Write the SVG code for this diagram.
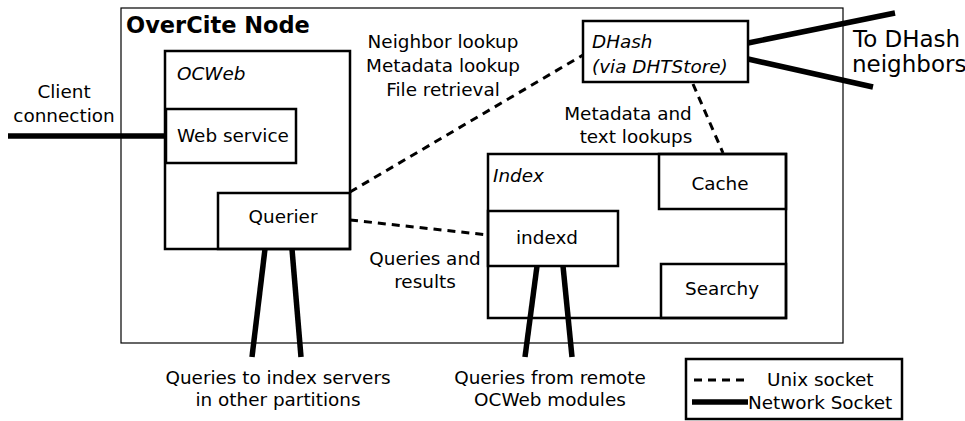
<svg xmlns="http://www.w3.org/2000/svg" width="965" height="421" viewBox="0 0 965 421">
<style>
text{font-family:"DejaVu Sans","Verdana",sans-serif;font-size:18.4px;fill:#000}
.it{font-style:italic}
.c{text-anchor:middle}
.box{fill:none;stroke:#000;stroke-width:2.5}
.outer{fill:none;stroke:#000;stroke-width:1.2}
.unix{fill:none;stroke:#000;stroke-width:3;stroke-dasharray:8 6}
.net{fill:none;stroke:#000;stroke-width:5.5}
.big{font-size:23px}
</style>
<rect width="965" height="421" fill="#fff"/>
<g id="overcite-node">
<rect class="outer" x="121" y="8" width="722" height="335"/>
<text x="126" y="33" style="font-weight:bold;font-size:22.5px">OverCite Node</text>
</g>
<g id="ocweb">
<rect class="box" x="165" y="51" width="185" height="198"/>
<text class="it" x="177" y="80">OCWeb</text>
</g>
<g id="web-service">
<rect class="box" x="166" y="109" width="130" height="54"/>
<text x="177" y="142">Web service</text>
</g>
<g id="querier">
<rect class="box" x="218" y="193" width="132" height="56"/>
<text class="c" x="283" y="223">Querier</text>
</g>
<g id="dhash">
<rect class="box" x="583" y="21" width="165" height="61"/>
<text class="it" x="592" y="48">DHash</text>
<text class="it" x="592" y="73">(via DHTStore)</text>
</g>
<g id="index">
<rect class="box" x="488" y="154" width="298" height="164"/>
<text class="it" x="493" y="182">Index</text>
</g>
<g id="cache">
<rect class="box" x="659" y="154" width="127" height="55"/>
<text class="c" x="720" y="190">Cache</text>
</g>
<g id="indexd">
<rect class="box" x="488" y="211" width="130" height="55"/>
<text class="c" x="547" y="244">indexd</text>
</g>
<g id="searchy">
<rect class="box" x="661" y="264" width="125" height="54"/>
<text class="c" x="722" y="295">Searchy</text>
</g>
<g id="connectors">
<line class="net" x1="8" y1="136" x2="166" y2="136"/>
<line class="unix" x1="350" y1="192" x2="583" y2="55"/>
<line class="unix" x1="693" y1="84" x2="723" y2="153"/>
<line class="unix" x1="350" y1="220" x2="488" y2="235"/>
<line class="net" x1="748" y1="43" x2="895" y2="13"/>
<line class="net" x1="748" y1="59" x2="873" y2="87"/>
<line class="net" x1="265" y1="249" x2="252" y2="357"/>
<line class="net" x1="292" y1="249" x2="301" y2="357"/>
<line class="net" x1="537" y1="266" x2="525" y2="357"/>
<line class="net" x1="563" y1="266" x2="572" y2="357"/>
</g>
<g id="labels">
<text class="c" x="64" y="98">Client</text>
<text class="c" x="64" y="122">connection</text>
<text class="c" x="443" y="48">Neighbor lookup</text>
<text class="c" x="443" y="72">Metadata lookup</text>
<text class="c" x="443" y="96">File retrieval</text>
<text class="c" x="628" y="120">Metadata and</text>
<text class="c" x="636" y="143">text lookups</text>
<text class="big" x="853" y="47">To DHash</text>
<text class="big" x="852" y="72">neighbors</text>
<text class="c" x="425" y="265">Queries and</text>
<text class="c" x="425" y="288">results</text>
<text class="c" x="278" y="384">Queries to index servers</text>
<text class="c" x="278" y="406">in other partitions</text>
<text class="c" x="550" y="384">Queries from remote</text>
<text class="c" x="550" y="406">OCWeb modules</text>
</g>
<g id="legend">
<rect class="box" x="686" y="359" width="216" height="60"/>
<line class="unix" x1="694" y1="380" x2="745" y2="380"/>
<text x="767" y="386">Unix socket</text>
<line class="net" x1="692" y1="402" x2="748" y2="402"/>
<text x="748" y="409">Network Socket</text>
</g>
</svg>
